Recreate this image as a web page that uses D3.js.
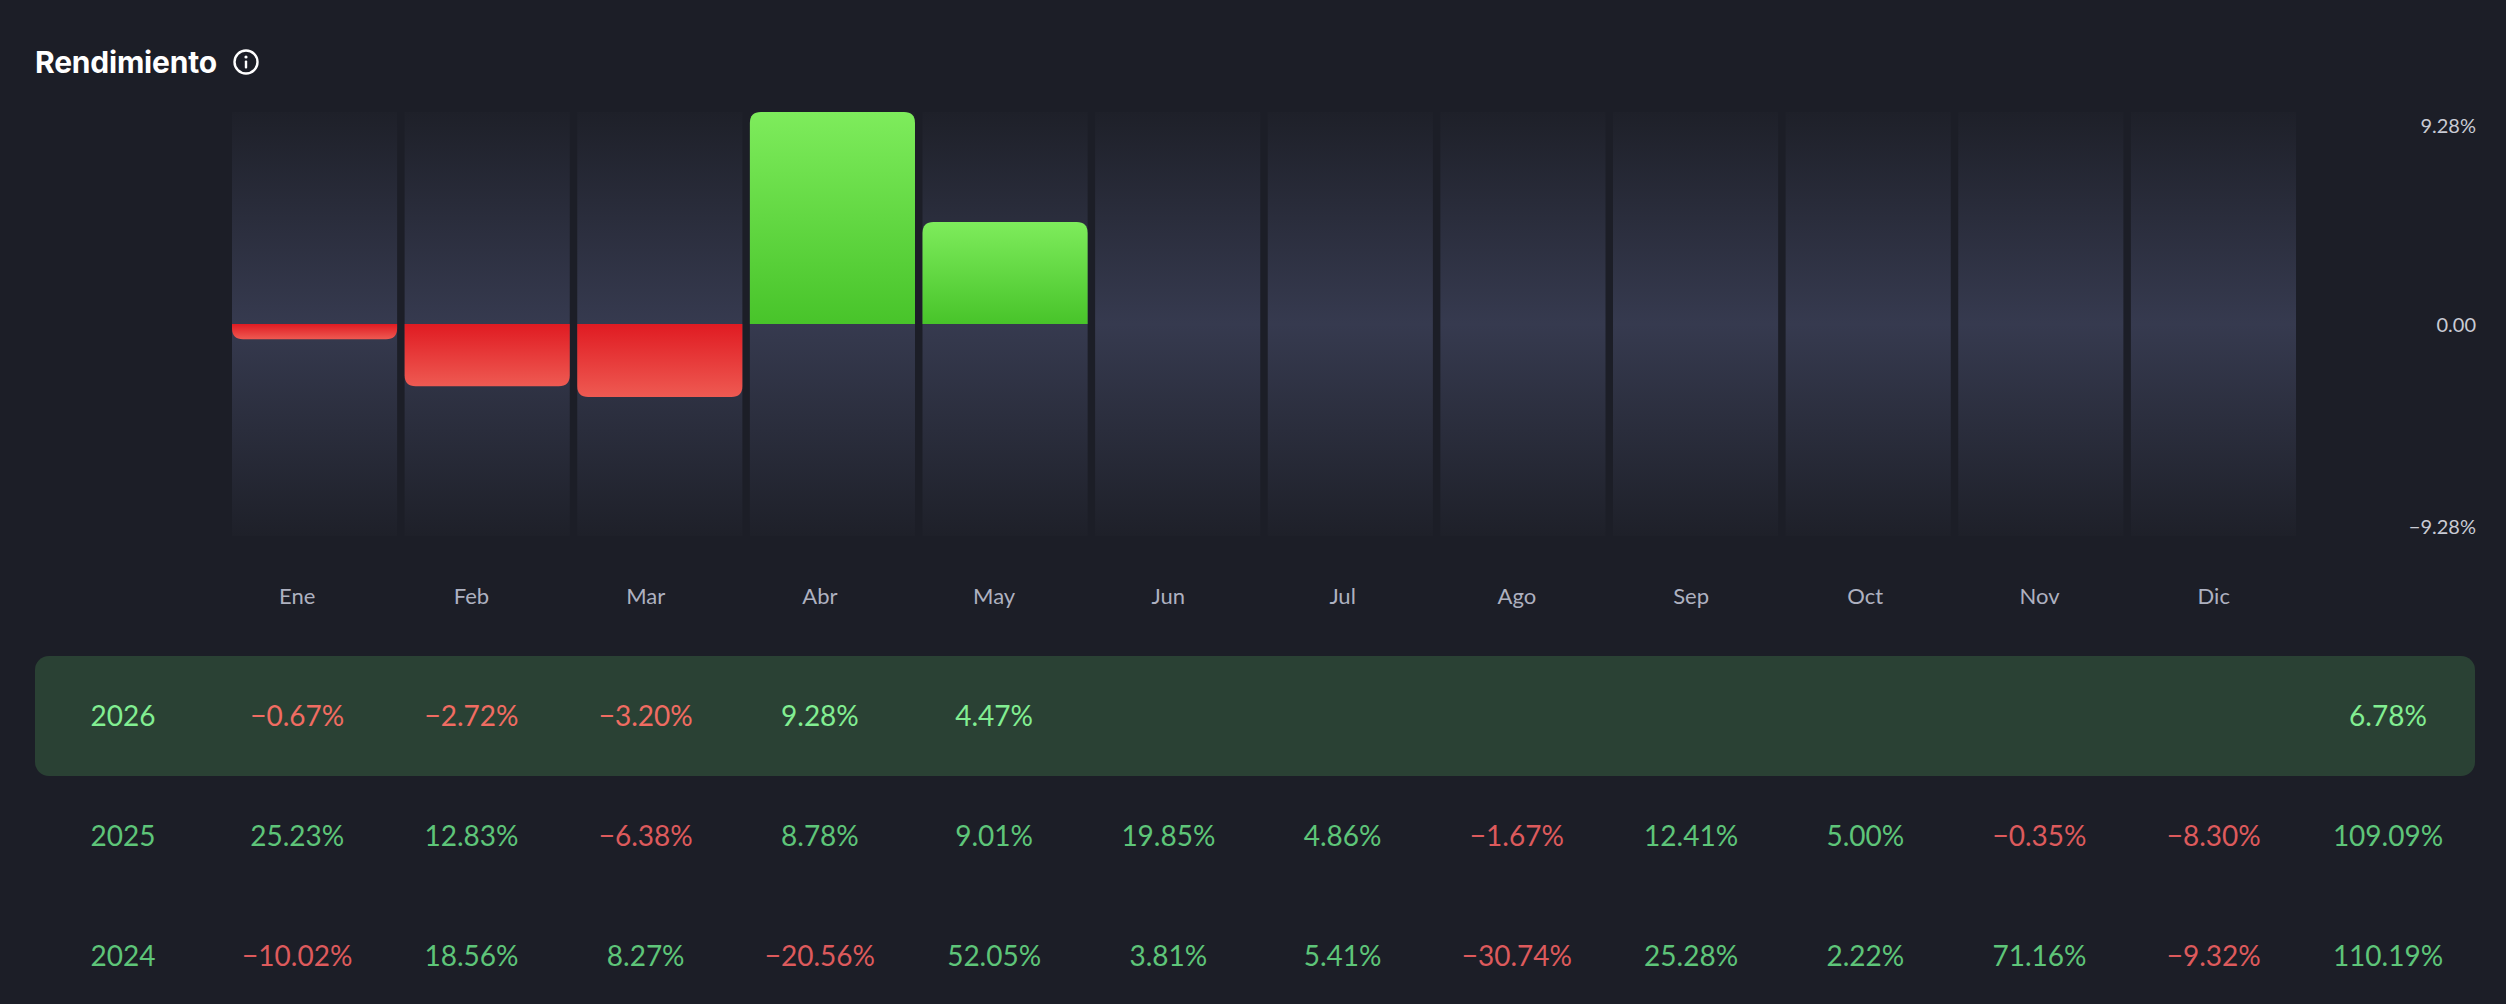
<!DOCTYPE html>
<html>
<head>
<meta charset="utf-8">
<script src="https://cdn.jsdelivr.net/npm/d3@7/dist/d3.min.js"></script>
<style>
  html, body { margin: 0; padding: 0; background: #1c1e27; }
  svg { display: block; }
  text { font-family: Lato, "Noto Sans", sans-serif; }
</style>
</head>
<body>
<svg id="chart" width="2506" height="1004"></svg>
<script>
// ---- data ----
const months = ["Ene","Feb","Mar","Abr","May","Jun","Jul","Ago","Sep","Oct","Nov","Dic"];
const years = ["2026","2025","2024"];
const r2026 = [-0.67,-2.72,-3.20,9.28,4.47,null,null,null,null,null,null,null];
const r2025 = [25.23,12.83,-6.38,8.78,9.01,19.85,4.86,-1.67,12.41,5.00,-0.35,-8.30];
const r2024 = [-10.02,18.56,8.27,-20.56,52.05,3.81,5.41,-30.74,25.28,2.22,71.16,-9.32];
const totals = [6.78,109.09,110.19];
const yTicks = [9.28, 0, -9.28];
const title = "Rendimiento";

const rows = [r2026, r2025, r2024];

const svg = d3.select("#chart");
const defs = svg.append("defs");

// gradients
const colGrad = defs.append("linearGradient").attr("id","colGrad").attr("x1",0).attr("x2",0).attr("y1",0).attr("y2",1);
[[0,"#1e2029"],[0.5,"#363a4f"],[1,"#1e2029"]].forEach(s=>colGrad.append("stop").attr("offset",s[0]).attr("stop-color",s[1]));
const gGrad = defs.append("linearGradient").attr("id","gGrad").attr("x1",0).attr("x2",0).attr("y1",0).attr("y2",1);
[[0,"#7eec5c"],[1,"#48c42a"]].forEach(s=>gGrad.append("stop").attr("offset",s[0]).attr("stop-color",s[1]));
const rGrad = defs.append("linearGradient").attr("id","rGrad").attr("x1",0).attr("x2",0).attr("y1",0).attr("y2",1);
[[0,"#e01b22"],[1,"#ee5a52"]].forEach(s=>rGrad.append("stop").attr("offset",s[0]).attr("stop-color",s[1]));

// title
svg.append("text").attr("x",35).attr("y",73).attr("fill","#ffffff")
  .style("font-family","Inter, Lato, sans-serif").style("font-weight",700).style("font-size","30px")
  .style("letter-spacing","-0.2px").text(title);
const info = svg.append("g").attr("transform","translate(246,62)");
info.append("circle").attr("r",11.5).attr("fill","none").attr("stroke","#ffffff").attr("stroke-width",2.4);
info.append("circle").attr("cx",0).attr("cy",-5).attr("r",1.6).attr("fill","#ffffff");
info.append("rect").attr("x",-1.2).attr("y",-1.5).attr("width",2.4).attr("height",8).attr("rx",1).attr("fill","#ffffff");

// scales
const x = d3.scaleBand().domain(months).range([232, 2296]).paddingInner(0.0435).paddingOuter(0);
const y = d3.scaleLinear().domain([-9.28, 9.28]).range([536, 112]);

// column backgrounds
svg.append("g").selectAll("rect").data(months).join("rect")
  .attr("x", d => x(d)).attr("width", x.bandwidth())
  .attr("y", y(9.28)).attr("height", y(-9.28) - y(9.28))
  .attr("fill","url(#colGrad)");

// bars
function barPath(x0, w, y0, y1, r) {
  const h = Math.abs(y1 - y0);
  r = Math.min(r, h, w/2);
  if (y1 < y0) {
    return `M${x0},${y0} L${x0},${y1+r} Q${x0},${y1} ${x0+r},${y1} L${x0+w-r},${y1} Q${x0+w},${y1} ${x0+w},${y1+r} L${x0+w},${y0} Z`;
  } else {
    return `M${x0},${y0} L${x0},${y1-r} Q${x0},${y1} ${x0+r},${y1} L${x0+w-r},${y1} Q${x0+w},${y1} ${x0+w},${y1-r} L${x0+w},${y0} Z`;
  }
}
const barData = months.map((m,i)=>({m, v:r2026[i]})).filter(d=>d.v!==null);
svg.append("g").selectAll("path").data(barData).join("path")
  .attr("d", d => barPath(x(d.m), x.bandwidth(), y(0), y(d.v), 11))
  .attr("fill", d => d.v >= 0 ? "url(#gGrad)" : "url(#rGrad)");

// y axis (right)
const yAxis = d3.axisRight(y).tickValues(yTicks).tickSize(0)
  .tickFormat(d => d === 0 ? "0.00" : d3.format(".2f")(d) + "%");
const ya = svg.append("g").attr("transform","translate(2476,0)").call(yAxis);
ya.select(".domain").remove();
ya.selectAll("text").attr("x",0).attr("text-anchor","end")
  .attr("fill","#c9cbd4").style("font-size","20px").style("font-family","Lato, sans-serif")
  .attr("dy", d => d > 0 ? "1.0em" : (d < 0 ? "-0.15em" : "0.35em"));

// table columns
const colX = d3.scaleLinear().domain([0, 13]).range([123, 2388]);

// month labels
svg.append("g").selectAll("text").data(months).join("text")
  .attr("x", (d,i) => colX(i+1)).attr("y", 596).attr("dy","0.35em")
  .attr("text-anchor","middle").attr("fill","#aeb1c0")
  .style("font-size","22px").text(d => d);

// highlight row
const rowY = d3.scaleLinear().domain([0, 2]).range([716, 956]);
svg.append("rect").attr("x",35).attr("y",656).attr("width",2440).attr("height",120)
  .attr("rx",14).attr("fill","#2a4134");

const fmt = v => d3.format(".2f")(v) + "%";
rows.forEach((row, ri) => {
  const hi = ri === 0;
  const green = hi ? "#82ee92" : "#5ec579";
  const red = hi ? "#f06c62" : "#dd5a5c";
  const g = svg.append("g").style("font-size","28px").style("font-weight",400);
  g.append("text").attr("x", colX(0)).attr("y", rowY(ri)).attr("dy","0.35em")
    .attr("text-anchor","middle").attr("fill", green).text(years[ri]);
  const cells = row.map((v,i)=>({v,i})).filter(d=>d.v!==null);
  g.selectAll("text.cell").data(cells).join("text").attr("class","cell")
    .attr("x", d => colX(d.i+1)).attr("y", rowY(ri)).attr("dy","0.35em")
    .attr("text-anchor","middle").attr("fill", d => d.v < 0 ? red : green)
    .text(d => fmt(d.v));
  g.append("text").attr("x", colX(13)).attr("y", rowY(ri)).attr("dy","0.35em")
    .attr("text-anchor","middle").attr("fill", totals[ri] < 0 ? red : green).text(fmt(totals[ri]));
});
</script>
</body>
</html>
